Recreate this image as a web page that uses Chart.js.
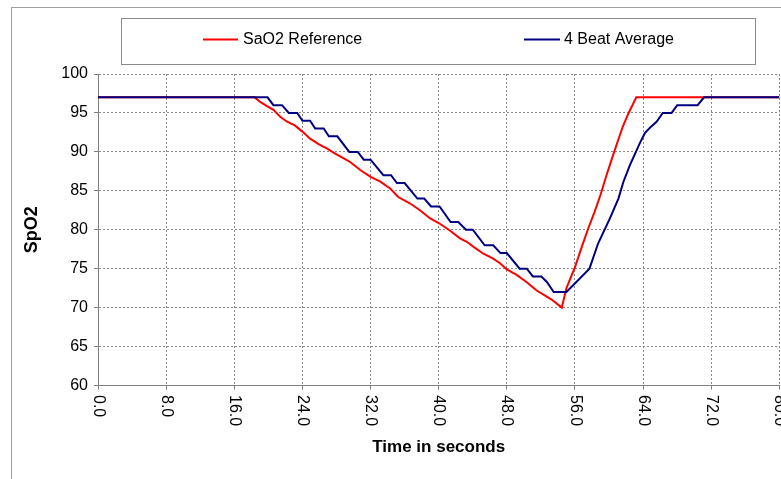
<!DOCTYPE html>
<html><head><meta charset="utf-8">
<script src="https://cdn.jsdelivr.net/npm/chart.js@4.4.1/dist/chart.umd.min.js"></script>
<style>html,body{margin:0;padding:0;background:#fff;}canvas{display:block;}</style>
</head><body>
<canvas id="c" width="781" height="479"></canvas>
<script>
const seriesNames = ['SaO2 Reference', '4 Beat Average'];
const redTimes = [0, 18.4, 19.0, 19.8, 20.6, 21.4, 22.15, 23.1, 24.0, 24.9, 25.9, 26.85, 27.8, 28.8, 29.6, 30.75, 32.0, 33.1, 34.3, 35.25, 36.6, 37.8, 39.0, 40.1, 41.3, 42.5, 43.3, 44.1, 45.2, 46.4, 47.2, 48.0, 49.15, 50.3, 51.5, 52.4, 53.3, 54.45, 55.0, 56.0, 56.8, 57.5, 58.3, 59.0, 59.7, 60.3, 61.0, 61.6, 62.3, 63.2, 80];
const redValues = [97, 97, 96.45, 95.9, 95.4, 94.5, 93.9, 93.4, 92.6, 91.7, 91.0, 90.45, 89.8, 89.2, 88.7, 87.7, 86.8, 86.2, 85.3, 84.2, 83.4, 82.5, 81.45, 80.8, 79.9, 78.9, 78.45, 77.8, 76.95, 76.3, 75.7, 74.9, 74.2, 73.3, 72.2, 71.6, 71.0, 70.0, 72.5, 75.2, 77.8, 80.0, 82.3, 84.5, 87.0, 89.0, 91.3, 93.2, 95.0, 97, 97];
const blueTimes = [0, 19.9, 20.6, 21.6, 22.4, 23.4, 24.0, 24.9, 25.5, 26.5, 27.1, 28.1, 29.5, 30.5, 31.2, 32.0, 33.5, 34.4, 35.1, 36.0, 37.5, 38.3, 39.1, 40.1, 41.4, 42.3, 43.2, 44.0, 45.4, 46.4, 47.25, 48.0, 49.5, 50.35, 51.05, 52.05, 52.7, 53.5, 55.0, 57.7, 58.7, 60.1, 61.1, 61.7, 62.45, 63.6, 64.2, 64.8, 65.6, 66.3, 67.35, 68.0, 70.4, 71.15, 80];
const blueValues = [97, 97, 96, 96, 95, 95, 94, 94, 93, 93, 92, 92, 90, 90, 89, 89, 87, 87, 86, 86, 84, 84, 83, 83, 81, 81, 80, 80, 78, 78, 77, 77, 75, 75, 74, 74, 73.3, 72, 72, 75, 78.2, 81.45, 84, 86.2, 88.3, 91.1, 92.4, 93.1, 93.9, 95, 95, 96, 96, 97, 97];
const xTickLabels = ['0.0', '8.0', '16.0', '24.0', '32.0', '40.0', '48.0', '56.0', '64.0', '72.0', '80.0'];
const yTickLabels = ['60', '65', '70', '75', '80', '85', '90', '95', '100'];
const xTitle = 'Time in seconds';
const yTitle = 'SpO2';
const seriesColors = ['#ff0000', '#000080'];

const xTickValues = xTickLabels.map(parseFloat);
const yTickValues = yTickLabels.map(parseFloat);
const toPts = (ts, vs) => ts.map((t, i) => ({x: t, y: vs[i]}));

Chart.defaults.font.family = '"Liberation Sans", Arial, sans-serif';
Chart.defaults.color = '#000';

const decor = {
  id: 'decor',
  beforeDraw(chart) {
    const ctx = chart.ctx;
    ctx.save();
    ctx.fillStyle = '#fff';
    ctx.fillRect(0, 0, chart.width, chart.height);
    ctx.strokeStyle = '#a0a0a0';
    ctx.lineWidth = 1;
    ctx.strokeRect(11.5, 7.5, 1000, 1000);
    ctx.strokeStyle = '#8c8c8c';
    ctx.strokeRect(121.5, 18.5, 634, 46);
    const items = [{x1: 203, x2: 238, tx: 243}, {x1: 524, x2: 560, tx: 564}];
    ctx.font = '16px "Liberation Sans", Arial, sans-serif';
    ctx.textBaseline = 'middle';
    ctx.textAlign = 'left';
    items.forEach((it, i) => {
      const ds = chart.data.datasets[i];
      ctx.strokeStyle = ds.borderColor;
      ctx.lineWidth = 2;
      ctx.beginPath();
      ctx.moveTo(it.x1, 39.5);
      ctx.lineTo(it.x2, 39.5);
      ctx.stroke();
      ctx.fillStyle = '#000';
      ctx.fillText(ds.label, it.tx, 40);
    });
    ctx.restore();
  },
  afterDraw(chart) {
    const ctx = chart.ctx;
    const xs = chart.scales.x;
    ctx.save();
    ctx.font = '16px "Liberation Sans", Arial, sans-serif';
    ctx.fillStyle = '#000';
    ctx.textAlign = 'left';
    ctx.textBaseline = 'middle';
    xTickLabels.forEach((lab, i) => {
      const px = xs.getPixelForValue(xTickValues[i]);
      ctx.save();
      ctx.translate(px, xs.top + 9.5);
      ctx.rotate(Math.PI / 2);
      ctx.fillText(lab, 0, 0);
      ctx.restore();
    });
    ctx.restore();
  }
};

new Chart(document.getElementById('c'), {
  type: 'line',
  data: {
    datasets: [
      {label: seriesNames[0], data: toPts(redTimes, redValues), borderColor: seriesColors[0], backgroundColor: seriesColors[0], order: 2},
      {label: seriesNames[1], data: toPts(blueTimes, blueValues), borderColor: seriesColors[1], backgroundColor: seriesColors[1], order: 1}
    ]
  },
  options: {
    responsive: false,
    animation: false,
    layout: {padding: {left: 0, top: 74, right: 1.6, bottom: 0}},
    plugins: {legend: {display: false}, tooltip: {enabled: false}},
    elements: {point: {radius: 0}, line: {tension: 0, borderWidth: 2, fill: false}},
    scales: {
      x: {
        type: 'linear', min: 0, max: 80,
        afterBuildTicks(s) { s.ticks = xTickValues.map(v => ({value: v})); },
        afterFit(s) { s.height = 93.5; },
        ticks: {display: false},
        grid: {color: '#8a8a8a', tickLength: 4, tickColor: '#808080', lineWidth: 1},
        border: {color: '#808080', width: 1, dash: [2, 2]},
        title: {display: true, text: xTitle, color: '#000', font: {size: 17, weight: 'bold'}, padding: {top: 0, bottom: 21}}
      },
      y: {
        type: 'linear', min: 60, max: 100,
        afterBuildTicks(s) { s.ticks = yTickValues.map(v => ({value: v})); },
        afterFit(s) { s.width = 98; },
        ticks: {font: {size: 16}, color: '#000', padding: 6, callback: (v, i) => yTickLabels[i]},
        grid: {color: '#8a8a8a', tickLength: 4, tickColor: '#808080', lineWidth: 1},
        border: {color: '#808080', width: 1, dash: [2, 2]},
        title: {display: true, text: yTitle, color: '#000', font: {size: 18, weight: 'bold'}, padding: {top: 21, bottom: 0}}
      }
    }
  },
  plugins: [decor]
});
</script>
</body></html>
